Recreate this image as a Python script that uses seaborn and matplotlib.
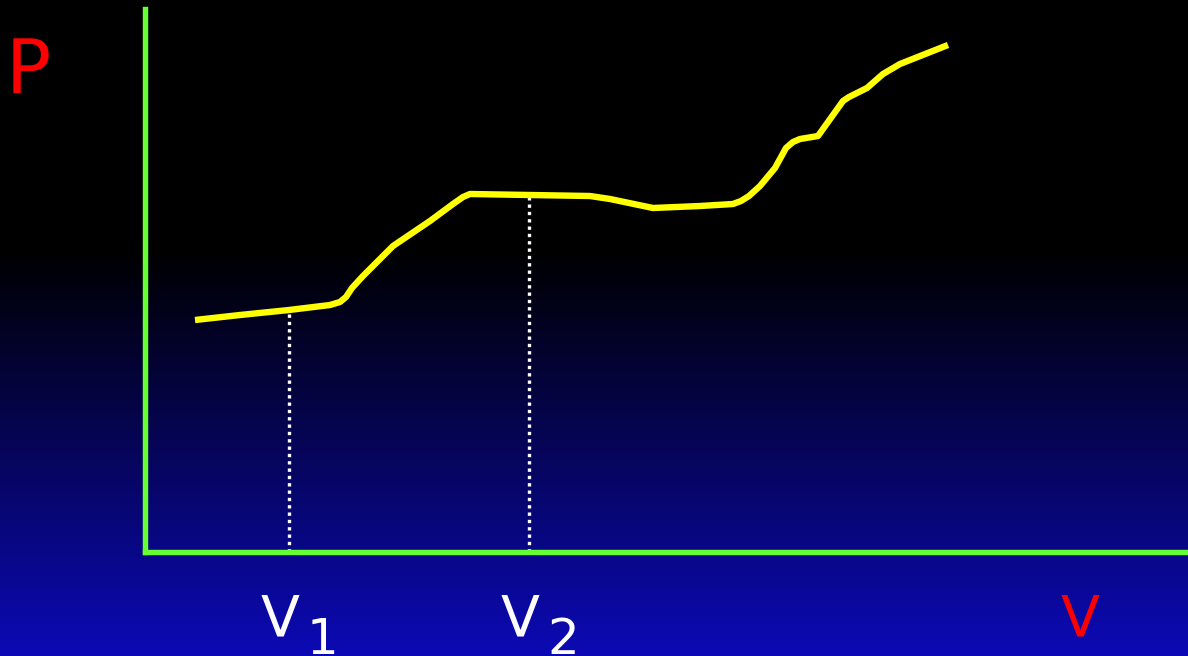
import numpy as np
import pandas as pd
import matplotlib
matplotlib.use("Agg")
import matplotlib.pyplot as plt
import seaborn as sns

# P-V curve, values (axis units, origin at the green corner)
volume = [50, 95, 144, 185, 195, 201, 207, 218, 248, 285, 308, 318, 325, 385, 445, 465,
          508, 555, 588, 596, 604, 615, 630, 641, 648, 655, 673, 698, 704, 712, 722, 738, 755, 803]
pressure = [232, 237, 242, 247, 250, 255, 264, 276, 306, 331, 348, 355, 358, 357, 356, 353,
            344, 346, 348, 351, 356, 366, 384, 404, 410, 413, 416, 451, 455, 459, 464, 478, 488, 507]
v_marks = [144, 384]
v_labels = ["V", "V"]
v_subs = ["1", "2"]

df = pd.DataFrame({"V": volume, "P": pressure})

sns.set_style("white")
plt.rcParams['font.family'] = ['DejaVu Sans']

W, H = 1188, 656
fig = plt.figure(figsize=(W / 100, H / 100), dpi=100)

# background gradient: black on top, fading to blue at the bottom
bg = fig.add_axes([0, 0, 1, 1], zorder=0)
rows = np.arange(H)
t = np.clip((rows - 250) / (H - 250), 0, 1)
top = np.array([0, 0, 0])
bottom = np.array([12, 10, 182]) / 255
grad = (t[:, None] * bottom[None, :] + (1 - t[:, None]) * top[None, :])[:, None, :]
bg.imshow(grad, aspect="auto", extent=[0, 1, 0, 1], origin="upper")
bg.set_axis_off()

ax = fig.add_axes([145 / W, 104 / H, 1043 / W, 543 / H], zorder=1)
ax.set_facecolor("none")
ax.set_xlim(0, 1043)
ax.set_ylim(0, 543)

green = "#66ff33"
for s in ["top", "right"]:
    ax.spines[s].set_visible(False)
for s in ["left", "bottom"]:
    ax.spines[s].set_color(green)
    ax.spines[s].set_linewidth(3.9)
ax.set_xticks([])
ax.set_yticks([])

# dotted guides from the axis up to the curve
tops = np.interp(v_marks, volume, pressure)
ax.vlines(v_marks, 0, tops, colors="white", linewidth=2.4,
          linestyles=[(0, (1, 1.2))], zorder=2)

sns.lineplot(data=df, x="V", y="P", ax=ax, color="#ffff00", linewidth=4.6,
             sort=False, zorder=3, solid_capstyle="butt", solid_joinstyle="round")
ax.set_xlabel("")
ax.set_ylabel("")

# labels
fig.text(6 / W, 1 - 93 / H, "P", color="red", fontsize=54, ha="left", va="baseline")
fig.text(1061 / W, 1 - 637 / H, "V", color="red", fontsize=41, ha="left", va="baseline")
for x, lab, sub in zip(v_marks, v_labels, v_subs):
    px = 145 + x
    fig.text((px - 28) / W, 1 - 637 / H, lab, color="white", fontsize=41,
             ha="left", va="baseline")
    fig.text((px + 18) / W, 1 - 654 / H, sub, color="white", fontsize=36,
             ha="left", va="baseline")

fig.savefig("out.png", dpi=100)
